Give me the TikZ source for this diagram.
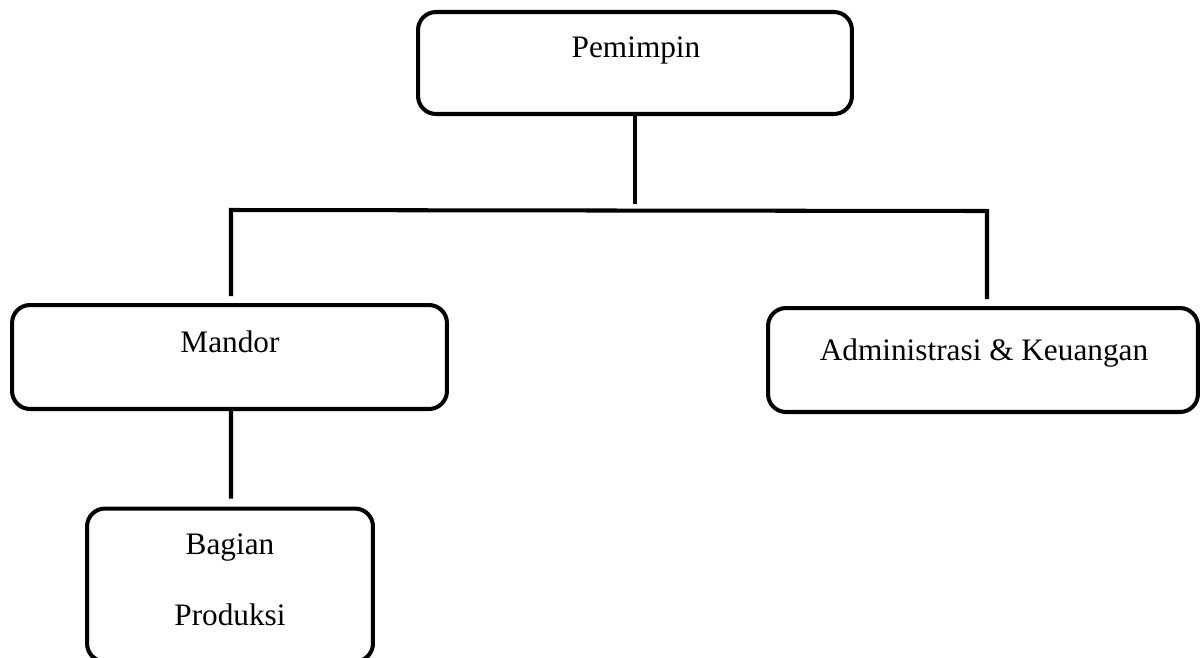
\documentclass[tikz,border=0pt]{standalone}
\usepackage{fontspec}
\setmainfont{Liberation Serif}
\usepackage{tikz}
\usetikzlibrary{calc,positioning}
\tikzset{orgbox/.style={draw,line width=2.3pt,rounded corners=0.36cm,inner sep=0pt}}
\tikzset{orgtxt/.style={font=\fontsize{17.8}{20}\selectfont,inner sep=0pt}}

\begin{document}
\begin{tikzpicture}[x=0.02cm,y=-0.02cm,line width=2.3pt]
    \useasboundingbox (0,0) rectangle (1200,657);
    %boxes
    \node[orgbox,minimum width=8.68cm,minimum height=2.04cm] (pem) at (635,63) {};
    \node[orgbox,minimum width=8.7cm,minimum height=2.08cm] (man) at (229.5,357) {};
    \node[orgbox,minimum width=8.6cm,minimum height=2.08cm] (adm) at (983,360) {};
    \node[orgbox,minimum width=5.72cm,minimum height=3.06cm] (bag) at (230,585) {};
    %texts
    \node[orgtxt] (pemtxt) at (636,50) {Pemimpin};
    \node[orgtxt] (mantxt) at (230,342) {Mandor};
    \node[orgtxt] (admtxt) at (984,353) {Administrasi \& Keuangan};
    \node[orgtxt] (bagtxt1) at (230,548) {Bagian};
    \node[orgtxt] (bagtxt2) at (230,615) {Produksi};
    %lines
    \coordinate (pemend) at (635,204);
    \coordinate (barL) at (231,210);
    \coordinate (barR) at (987,211);
    \draw (pem.south) -- (pemend);
    \draw ($(man.north)+(1.5,-7)$) -- (barL) -- (barR) -- ($(adm.north)+(4,-7)$);
    \draw ($(man.south)+(1.5,0)$) -- ($(bag.north)+(1,-8)$);
\end{tikzpicture}
\end{document}
